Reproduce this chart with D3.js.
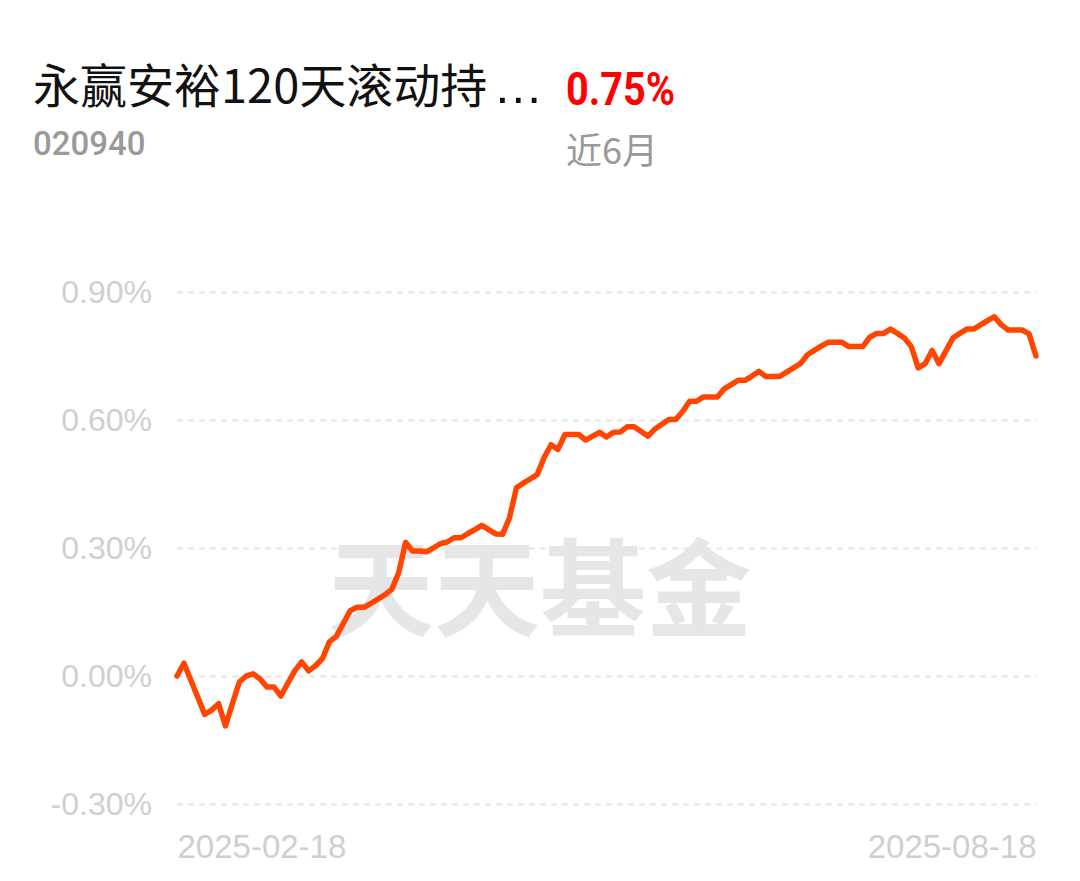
<!DOCTYPE html>
<html>
<head>
<meta charset="utf-8">
<script src="https://cdn.jsdelivr.net/npm/d3@7"></script>
<style>
  html, body { margin: 0; padding: 0; background: #ffffff; }
  svg { display: block; }
</style>
</head>
<body>
<svg id="chart" width="1080" height="881"></svg>
<script>
// ---- data ----
const fundName = "永赢安裕120天滚动持";
const ellipsis = "…";
const fundCode = "020940";
const periodReturn = "0.75%";
const periodLabel = "近6月";
const watermark = "天天基金";

const yTicks = [-0.30, 0.00, 0.30, 0.60, 0.90];
const xTickLabels = ["2025-02-18", "2025-08-18"];

// cumulative return (%) per trading day, 2025-02-18 .. 2025-08-18
const returns = [
  0.00, 0.03, -0.01, -0.05, -0.09, -0.08, -0.065, -0.117, -0.065, -0.014,
  0.00, 0.005, -0.007, -0.026, -0.026, -0.047, -0.017, 0.012, 0.033, 0.012,
  0.024, 0.041, 0.080, 0.093, 0.123, 0.153, 0.161, 0.161, 0.170, 0.180,
  0.190, 0.203, 0.242, 0.313, 0.293, 0.293, 0.291, 0.300, 0.310, 0.314,
  0.324, 0.324, 0.334, 0.343, 0.353, 0.343, 0.333, 0.332, 0.371, 0.441,
  0.452, 0.462, 0.472, 0.512, 0.542, 0.531, 0.566, 0.566, 0.566, 0.553,
  0.562, 0.571, 0.560, 0.571, 0.572, 0.584, 0.584, 0.573, 0.562, 0.579,
  0.590, 0.601, 0.601, 0.620, 0.644, 0.644, 0.654, 0.654, 0.654, 0.673,
  0.683, 0.693, 0.693, 0.703, 0.714, 0.702, 0.702, 0.702, 0.712, 0.722,
  0.732, 0.753, 0.763, 0.773, 0.782, 0.782, 0.782, 0.772, 0.772, 0.772,
  0.794, 0.803, 0.803, 0.813, 0.803, 0.792, 0.772, 0.722, 0.732, 0.763,
  0.732, 0.762, 0.792, 0.803, 0.813, 0.813, 0.823, 0.833, 0.842, 0.823,
  0.811, 0.811, 0.811, 0.802, 0.750
];

// ---- drawing ----
const svg = d3.select("#chart");
const plotLeft = 177, plotRight = 1036, plotTop = 292, plotBottom = 804;

const x = d3.scaleLinear().domain([0, returns.length - 1]).range([plotLeft, plotRight]);
const y = d3.scaleLinear().domain([-0.30, 0.90]).range([plotBottom, plotTop]);

// title block
const title = svg.append("text")
  .attr("x", 33).attr("y", 103)
  .attr("font-family", "'Noto Sans CJK SC', 'Noto Sans', sans-serif")
  .attr("font-size", 47).attr("fill", "#111");
title.append("tspan").text(fundName);
title.append("tspan")
  .attr("dx", 6)
  .attr("font-family", "'Liberation Sans', Arial, sans-serif")
  .attr("font-size", 50)
  .text(ellipsis);

svg.append("text")
  .attr("x", 33).attr("y", 155)
  .attr("font-family", "Roboto, 'Noto Sans', sans-serif")
  .attr("font-weight", 500)
  .attr("font-size", 33).attr("fill", "#999999")
  .text(fundCode);

svg.append("text")
  .attr("transform", "translate(566,105) scale(0.9,1.04)")
  .attr("font-family", "Roboto, 'Noto Sans', sans-serif")
  .attr("font-weight", 700)
  .attr("font-size", 44).attr("fill", "#ff0000")
  .text(periodReturn);

svg.append("text")
  .attr("x", 566).attr("y", 164)
  .attr("font-family", "'Noto Sans CJK SC', sans-serif")
  .attr("font-size", 36).attr("fill", "#999999")
  .text(periodLabel);

// watermark
svg.append("text")
  .attr("x", 540).attr("y", 628)
  .attr("text-anchor", "middle")
  .attr("font-family", "'Noto Sans CJK SC', sans-serif")
  .attr("font-weight", 700)
  .attr("font-size", 106)
  .attr("fill", "#e6e6e6")
  .text(watermark);

// grid lines
const yAxis = d3.axisLeft(y)
  .tickValues(yTicks)
  .tickSize(-(plotRight - plotLeft))
  .tickPadding(25)
  .tickFormat(d => d3.format(".2f")(d).replace("\u2212", "-") + "%");

const gy = svg.append("g")
  .attr("transform", `translate(${plotLeft},0)`)
  .call(yAxis);
gy.select(".domain").remove();
gy.selectAll(".tick line")
  .attr("stroke", "#e6e6e6")
  .attr("stroke-width", 2)
  .attr("stroke-dasharray", "6,5");
gy.selectAll(".tick text")
  .attr("fill", "#cfcfcf")
  .attr("font-family", "'Liberation Sans', Arial, sans-serif")
  .attr("font-size", 32);

// x labels
const xAxis = d3.axisBottom(x)
  .tickValues([0, returns.length - 1])
  .tickSize(0)
  .tickFormat((d, i) => xTickLabels[i]);
const gx = svg.append("g")
  .attr("transform", `translate(0,${plotBottom + 28})`)
  .call(xAxis);
gx.select(".domain").remove();
gx.selectAll(".tick text")
  .attr("fill", "#cfcfcf")
  .attr("font-family", "'Liberation Sans', Arial, sans-serif")
  .attr("font-size", 33)
  .attr("text-anchor", (d, i) => i === 0 ? "start" : "end");

// line
const line = d3.line()
  .x((d, i) => x(i))
  .y(d => y(d));
svg.append("path")
  .datum(returns)
  .attr("d", line)
  .attr("fill", "none")
  .attr("stroke", "#ff4500")
  .attr("stroke-width", 5.5)
  .attr("stroke-linejoin", "round")
  .attr("stroke-linecap", "round");
</script>
</body>
</html>
